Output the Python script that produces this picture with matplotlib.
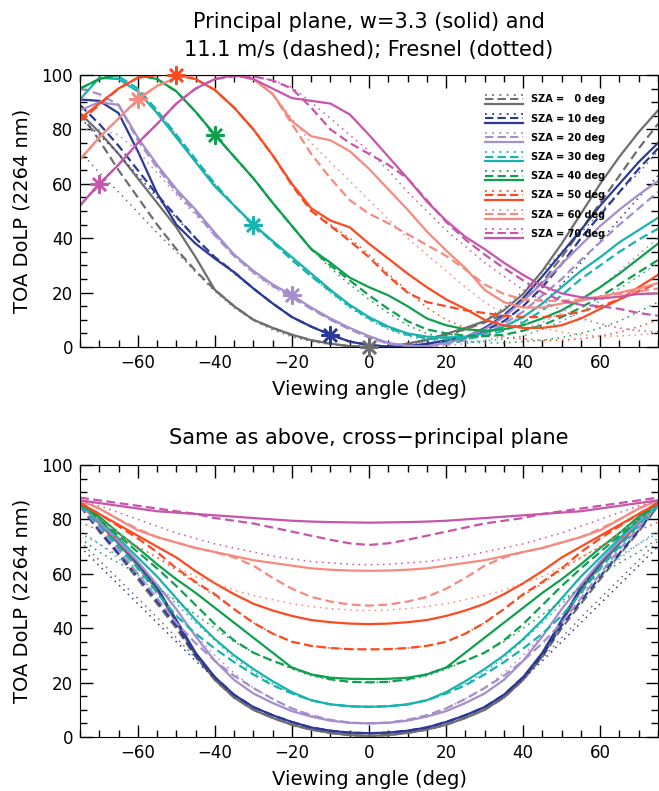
import matplotlib
matplotlib.use("Agg")
import matplotlib.pyplot as plt
from matplotlib.legend_handler import HandlerBase
from matplotlib.lines import Line2D
from matplotlib.ticker import MultipleLocator

# viewing angle grid (deg)
VZA = list(range(-75, 80, 5))
SZA = [0, 10, 20, 30, 40, 50, 60, 70]
COLORS = ['#6e6e6e', '#2b3a97', '#a48ecb', '#17b3ae', '#0fa04f', '#fb4a1f', '#f78a80', '#c755ab']

# principal plane, -75..75 step 5
pp_solid = [
    [86, 79, 71, 62, 53, 44, 33, 21, 15, 10, 7, 4.5, 2.5, 1.2, 0.3, 0, 0.3, 1.2, 2.7, 4.8, 7, 9.5, 13.5, 19.5, 28, 38, 49, 60, 70, 79, 87],
    [91, 90.5, 86, 72, 56.5, 45, 38, 32.5, 27.5, 21.5, 16, 11, 7.5, 4.5, 2, 0.7, 0.1, 0.3, 1.2, 2.5, 3.5, 7, 11.5, 18, 26, 34.5, 43, 52, 60, 68, 75],
    [87, 90, 89, 77, 67, 58, 50.5, 42, 34, 28, 23, 19, 14.5, 10.5, 7, 4, 1.5, 0.4, 0.3, 1.5, 3.5, 6.5, 11, 17, 23.5, 30.5, 37.5, 44.5, 50.5, 56, 61],
    [91, 99, 98.5, 94, 86, 77, 68, 59, 52, 45, 39, 33, 27, 21, 15.5, 11, 7.5, 5, 3.8, 3.5, 3.8, 5, 7.5, 11, 16, 22, 28, 33, 38.5, 43, 47.5],
    [95, 98.5, 100, 100, 98.5, 94, 86.5, 78, 70, 62, 53, 44.5, 36, 31, 25.5, 22, 19, 15, 10.5, 8, 6.5, 6, 6.5, 8, 10.5, 13.5, 17.5, 22, 27, 32.5, 38],
    [84, 89.5, 95, 99, 100, 100, 98.5, 94.5, 88, 80, 70.5, 60, 51, 46.5, 44, 38, 32.5, 27, 22, 17.5, 14, 10, 8, 7, 7, 8, 10.5, 14, 17.5, 22, 26.5],
    [69, 77, 84, 91, 96, 99, 100, 100, 100, 98.5, 93, 83, 77.5, 76, 72, 65.5, 58, 50.5, 42.5, 35.5, 29, 21, 16.5, 14.5, 14.5, 16, 17, 18.5, 20, 21.5, 23.5],
    [52, 60, 67, 75, 82, 89.5, 95, 98.5, 100, 98.5, 95, 91.5, 90.5, 89.5, 85.5, 78, 70, 62, 53.5, 46.5, 40.5, 36, 31, 26.5, 22.5, 19.7, 18.3, 17.8, 18.5, 19.5, 19.7],
]
pp_dashed = [
    [86, 76, 65, 55, 45, 36, 28, 21, 15, 10, 7, 4.5, 2.5, 1.2, 0.3, 0, 0.3, 1.2, 2.5, 4.5, 6.5, 9, 12, 17, 24, 33, 43, 53, 63, 73, 82],
    [89, 82, 74, 65, 56, 48, 40, 33, 27.5, 21.5, 16, 11, 7.5, 4.5, 2, 0.7, 0.2, 0.3, 1, 2, 3.5, 6, 9.5, 15, 22, 30.5, 40, 48.5, 57, 65.5, 73],
    [95, 93, 89, 76, 66, 57, 49.5, 41, 33.5, 27.5, 22.5, 18.5, 14, 10, 6.5, 3.5, 1.2, 0.3, 0.3, 1, 2.5, 5, 8.5, 13, 19, 25, 32, 38.5, 45, 51, 57],
    [100, 100, 99.5, 95, 87, 78, 69, 60, 52, 45, 38.5, 32, 26, 20.5, 15, 10.5, 7, 4.5, 3.2, 2.8, 3, 4, 6, 9, 13.5, 19, 25, 30, 35, 39.5, 43.5],
    [95, 98.5, 100, 100, 98.5, 94, 86.5, 78, 70, 62, 53, 44.5, 36, 30, 24.5, 19, 14, 9.5, 6.5, 5, 4.2, 4, 4.5, 6, 8, 11, 14.5, 18.5, 23, 27.5, 32],
    [83, 89, 95, 99, 100, 100, 98.5, 94.5, 88, 80, 70.5, 59.5, 50, 44.5, 39, 33, 26, 20, 16.5, 15, 13.5, 12.5, 11.5, 11, 11, 11.5, 13, 15, 17.5, 20.5, 23.5],
    [69, 77, 84, 91, 96, 99, 100, 100, 100, 98.5, 93, 82, 71, 62, 54, 49, 45.5, 41.5, 37.5, 33.5, 28.5, 23, 19.5, 17.5, 17, 17, 17.5, 18.5, 19.5, 20.5, 21.5],
    [52, 60, 67, 75, 82, 89.5, 95, 98.5, 99.5, 99.5, 98, 95, 88, 80, 75, 71, 67, 62, 54, 46, 39.5, 34, 29, 24.5, 20, 17, 15.5, 15, 14, 12.5, 11.5],
]
pp_dotted = [
    [72, 64, 57, 49.5, 42, 35, 27.5, 20.5, 14.5, 9.8, 6.3, 3.8, 2, 0.9, 0.2, 0, 0.2, 0.9, 2, 3.8, 6.3, 9.8, 14.5, 20.5, 27.5, 35, 42, 49.5, 57, 64, 72],
    [84, 78, 71, 63, 55, 47.5, 40, 33, 27, 21.5, 16, 11, 7.5, 4.5, 2, 0.7, 0.1, 0.3, 1, 2, 3, 4.5, 7, 11, 16, 23, 31, 39, 47, 55, 63],
    [80, 80, 78, 72, 64, 56, 48.5, 41, 33.5, 27, 22, 18, 14, 10, 6.5, 3.5, 1.2, 0.3, 0.2, 0.5, 1.2, 2.5, 4, 6, 9, 12.5, 17, 22, 28, 34, 40],
    [100, 100, 99, 95, 87, 78, 69, 60, 52, 45, 38.5, 32, 26, 20, 14.5, 10, 6.5, 4, 2.5, 1.8, 1.8, 2.2, 3, 4, 6.5, 9.5, 13, 17, 21.5, 26, 31],
    [95, 98.5, 100, 100, 98.5, 94, 86.5, 78, 70, 62, 53, 44.5, 36, 29, 23, 17.5, 12.5, 8, 5, 3, 2, 1.5, 1.5, 2, 2.5, 3.5, 5, 7, 9.5, 13, 16.5],
    [84, 89.5, 95, 99, 100, 100, 98.5, 94.5, 88, 80, 70.5, 60, 50.5, 45, 40, 34, 27, 20.5, 14.5, 10, 7, 5, 3.5, 3, 2.5, 2.5, 3, 4, 5.5, 7.5, 10],
    [69, 77, 84, 91, 96, 99, 100, 100, 100, 98.5, 93, 84, 75, 68, 61, 54, 47, 40, 34, 28, 22, 16.5, 12, 9, 7, 5.5, 4.5, 4, 4, 4.5, 5],
    [52, 60, 67, 75, 82, 89.5, 95, 98.5, 99.5, 99.5, 98, 95.5, 90, 84, 78, 72, 65, 57, 50, 43, 37, 31, 26, 21, 17, 13.5, 10.5, 8.5, 7, 6, 5.5],
]

# cross-principal plane is symmetric: values read for -75..0 (step 5)
cp_solid = [
    [86, 78.5, 71, 63, 54, 42, 30, 21, 14.5, 10, 7, 4.5, 2.7, 1.5, 0.7, 0.4],
    [86, 79, 72, 64, 55, 43, 31, 22, 15.5, 11, 8, 5.5, 3.5, 2.3, 1.6, 1.4],
    [86, 79, 72, 64.5, 56, 47, 37, 28, 21, 16, 12.5, 9.5, 7.5, 6, 5.2, 5],
    [86, 80, 73, 66, 59, 51, 43, 36, 30, 25, 20.5, 16.5, 13.5, 12, 11.3, 11.1],
    [86.5, 81, 75, 69.5, 63.5, 58, 53, 47.5, 42, 36.5, 31, 25.5, 23, 21.8, 21.4, 21.3],
    [86, 82, 78, 74, 70, 66, 61, 56.5, 52.5, 49, 46.5, 44.5, 43, 42.2, 41.7, 41.5],
    [87, 84, 80, 76, 73.5, 71.5, 69.5, 68, 66.5, 65, 64, 63, 62, 61.5, 61.2, 61.1],
    [87, 86, 85, 84, 83, 82.5, 82, 81.5, 81, 80.5, 80, 79.5, 79.2, 79, 78.9, 78.8],
]
cp_dashed = [
    [85, 75.5, 67, 58, 49, 40, 29.5, 21, 14.5, 10, 7, 4.5, 2.7, 1.5, 0.7, 0.4],
    [85, 76, 67.5, 59, 50, 41, 30, 22, 15.5, 11, 8, 5.5, 3.5, 2.3, 1.6, 1.4],
    [85, 77, 69, 60, 51, 42, 34.5, 28, 22.5, 18, 14, 10.5, 8, 6.3, 5.3, 5],
    [85, 78, 70, 62, 53, 44.5, 38, 32.5, 27.5, 23, 19, 16, 13.5, 12, 11.3, 11.1],
    [86, 80, 74, 68, 62, 55.5, 48.5, 41.5, 35.5, 31, 28, 25.5, 23, 21.2, 20.3, 20.1],
    [86, 82, 77.5, 73, 68, 62, 57, 52.5, 47, 42, 38, 35, 33.5, 32.7, 32.3, 32.2],
    [87, 84, 80, 76.5, 73.5, 71.5, 69.5, 68, 66, 63, 58.5, 54.5, 51.5, 49.8, 48.7, 48.3],
    [88, 87, 86, 85, 84, 83, 82, 80.5, 79.5, 78.5, 77, 75.5, 74, 72.5, 71.2, 70.6],
]
cp_dotted = [
    [72, 65, 58, 51, 44, 36.5, 29, 21.5, 15, 10, 7, 4.5, 2.7, 1.5, 0.7, 0.4],
    [70, 63, 56, 49, 42, 35, 28, 21.5, 15.5, 11, 8, 5.5, 3.5, 2.3, 1.6, 1.4],
    [76, 71, 65.5, 59.5, 52.5, 45, 37.5, 30, 23.5, 18, 14, 10.5, 8, 6.3, 5.3, 5],
    [75, 71, 66.5, 61.5, 55.5, 49, 42, 35.5, 29, 24, 19.5, 16, 13.5, 12, 11.3, 11.1],
    [73, 68, 64, 60, 55, 50, 45, 40, 35, 31, 28, 25, 22.5, 21, 20.2, 20],
    [79, 76, 73, 70, 66, 61.5, 56.5, 52, 47, 42, 38, 35, 33.5, 32.7, 32.3, 32.2],
    [84, 80, 75, 70, 66, 62.5, 59, 56.5, 54, 52, 50.5, 49, 48, 47.2, 46.7, 46.5],
    [87, 85, 82.5, 80, 77.5, 75, 73, 71, 69.5, 68, 66.5, 65.5, 64.5, 64, 63.5, 63.3],
]

DASH = (0, (4, 2))
DOT = (0, (1, 3))


def mirror(half):
    """-75..0 の値を -75..75 に展開"""
    return list(half) + list(half[-2::-1])


class TripleHandler(HandlerBase):
    """凡例: 点線・破線・実線を縦に並べる"""
    def create_artists(self, legend, orig_handle, xdescent, ydescent,
                       width, height, fontsize, trans):
        c = orig_handle.get_color()
        arts = []
        for frac, ls, lw in [(0.95, DOT, 1.3), (0.5, DASH, 1.5), (0.05, '-', 1.6)]:
            y = height * frac - ydescent
            arts.append(Line2D([-xdescent, width - xdescent], [y, y], color=c,
                               linestyle=ls, linewidth=lw, transform=trans))
        return arts


def style_axes(ax):
    ax.set_xlim(-75, 75)
    ax.set_ylim(0, 100)
    ax.xaxis.set_major_locator(MultipleLocator(20))
    ax.xaxis.set_minor_locator(MultipleLocator(5))
    ax.yaxis.set_major_locator(MultipleLocator(20))
    ax.yaxis.set_minor_locator(MultipleLocator(5))
    ax.tick_params(which='both', direction='in', top=True, right=True, width=1)
    ax.tick_params(which='major', length=9, labelsize=12, pad=5)
    ax.tick_params(which='minor', length=5)
    ax.set_xlabel('Viewing angle (deg)', fontsize=14, labelpad=6)
    ax.set_ylabel('TOA DoLP (2264 nm)', fontsize=14, labelpad=7)


fig = plt.figure(figsize=(6.59, 7.91), dpi=100)
ax1 = fig.add_axes([80 / 659, 444 / 791, 578 / 659, 272 / 791])
ax2 = fig.add_axes([80 / 659, 54 / 791, 578 / 659, 272 / 791])

handles = []
for i, sza in enumerate(SZA):
    c = COLORS[i]
    h, = ax1.plot(VZA, pp_solid[i], color=c, lw=1.6)
    ax1.plot(VZA, pp_dashed[i], color=c, lw=1.6, linestyle=DASH)
    ax1.plot(VZA, pp_dotted[i], color=c, lw=1.1, linestyle=DOT)
    # specular direction
    k = VZA.index(-sza)
    ax1.plot(VZA[k], pp_solid[i][k], marker=(8, 2, 0), ms=13, mew=1.8,
             color=c, clip_on=False, zorder=5)
    handles.append(h)

    ax2.plot(VZA, mirror(cp_solid[i]), color=c, lw=1.6)
    ax2.plot(VZA, mirror(cp_dashed[i]), color=c, lw=1.6, linestyle=DASH)
    ax2.plot(VZA, mirror(cp_dotted[i]), color=c, lw=1.1, linestyle=DOT)

labels = ['SZA =   0 deg'] + [f'SZA = {s} deg' for s in SZA[1:]]
ax1.legend(handles, labels, handler_map={Line2D: TripleHandler()},
           loc='upper left', bbox_to_anchor=(0.70, 0.93), frameon=False,
           prop={'size': 7, 'weight': 'bold'}, handlelength=3.9, handleheight=1.2,
           labelspacing=0.92, handletextpad=0.9, borderpad=0, borderaxespad=0)

ax1.set_title('Principal plane, w=3.3 (solid) and\n11.1 m/s (dashed); Fresnel (dotted)',
              fontsize=15, pad=14, linespacing=1.45)
ax2.set_title('Same as above, cross\u2212principal plane', fontsize=15, pad=15)

style_axes(ax1)
style_axes(ax2)

fig.savefig('out.png', dpi=100)
